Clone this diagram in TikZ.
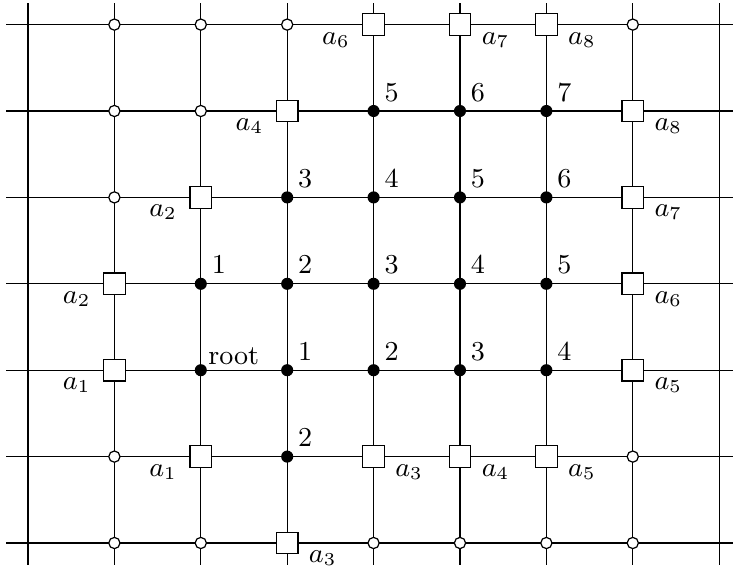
\documentclass[tikz,border=0pt]{standalone}
\usetikzlibrary{positioning}
\begin{document}
\begin{tikzpicture}[
    every node/.style={font=\small},
    free/.style={circle, draw, fill=white, inner sep=0pt, minimum size=1.3mm},
    taken/.style={circle, fill=black, inner sep=0pt, minimum size=1.4mm},
    port/.style={rectangle, draw, fill=white, inner sep=0pt, minimum size=2.5mm},
    dist/.style={anchor=base west, inner sep=0pt},
    pleft/.style={anchor=base east, inner sep=0pt},
    pright/.style={anchor=base west, inner sep=0pt}
  ]
  \useasboundingbox (-0.324,-0.336) rectangle (8.16,6.285);
  % lattice
  \foreach \x in {0,...,8}
    \draw (\x,-0.25) -- (\x,6.25);
  \foreach \y in {0,...,6}
    \draw (-0.25,\y) -- (8.25,\y);

  % free sites
  \foreach \x/\y in {1/6,2/6,3/6,7/6,1/5,2/5,1/4,1/1,7/1,1/0,2/0,4/0,5/0,6/0,7/0}
    \node[free] (f-\x-\y) at (\x,\y) {};

  % occupied sites and their distances
  \node[taken] (root) at (2,2) {};
  \node[dist] (root-lbl) at ([xshift=0.8mm,yshift=0.7mm]root.center) {root};
  \foreach \x/\y/\d in {4/5/5,5/5/6,6/5/7,3/4/3,4/4/4,5/4/5,6/4/6,
                        2/3/1,3/3/2,4/3/3,5/3/4,6/3/5,3/2/1,4/2/2,5/2/3,6/2/4,3/1/2}
    {\node[taken] (t-\x-\y) at (\x,\y) {};
     \node[dist] (d-\x-\y) at ([xshift=1.2mm,yshift=1.15mm]t-\x-\y.center) {\d};}

  % boundary ports
  \foreach \x/\y/\i in {4/6/6,3/5/4,2/4/2,1/3/2,1/2/1,2/1/1}
    {\node[port] (p-\x-\y) at (\x,\y) {};
     \node[pleft] (l-\x-\y) at ([xshift=-2.7mm,yshift=-2.25mm]p-\x-\y.center) {$a_{\i}$};}
  \foreach \x/\y/\i in {5/6/7,6/6/8,7/5/8,7/4/7,7/3/6,7/2/5,4/1/3,5/1/4,6/1/5,3/0/3}
    {\node[port] (p-\x-\y) at (\x,\y) {};
     \node[pright] (l-\x-\y) at ([xshift=2.45mm,yshift=-2.25mm]p-\x-\y.center) {$a_{\i}$};}
\end{tikzpicture}
\end{document}
